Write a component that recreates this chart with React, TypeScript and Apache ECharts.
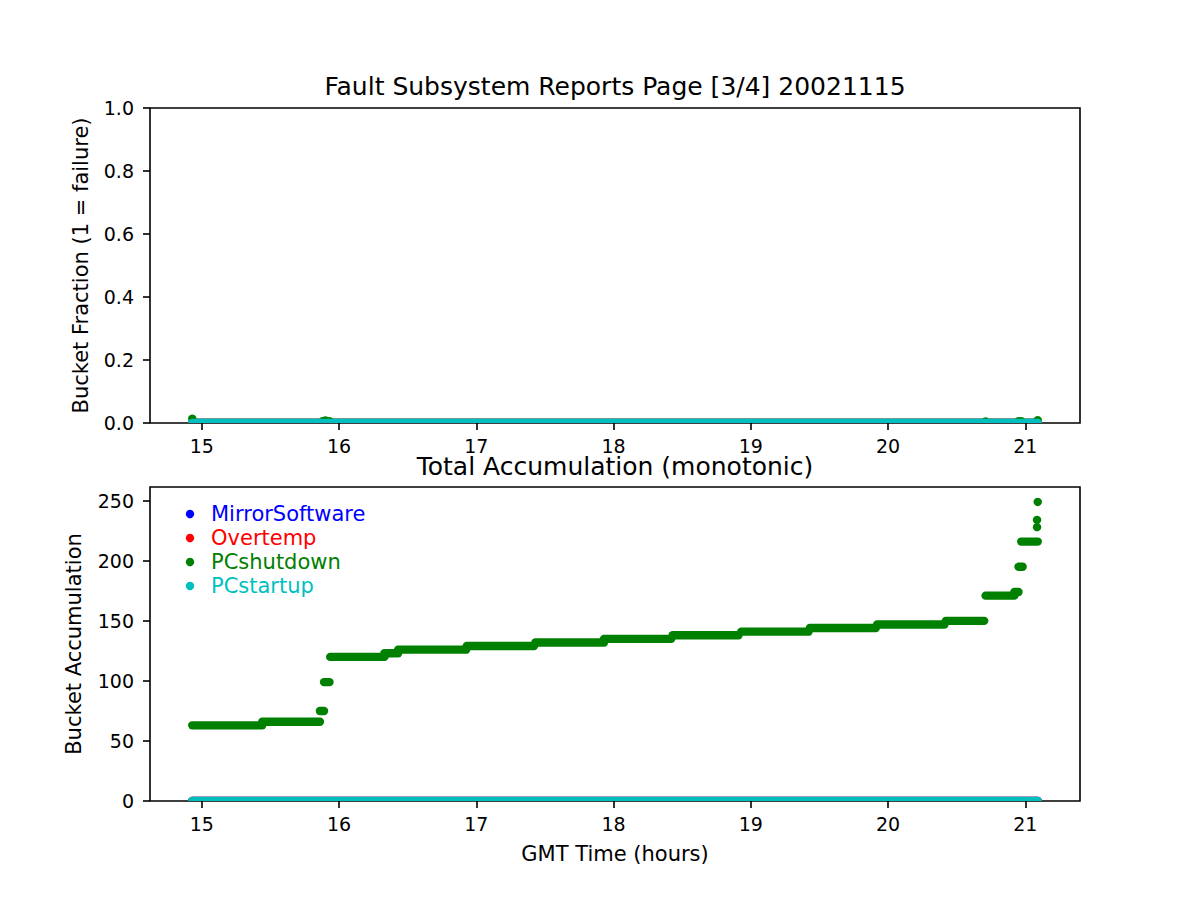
import React, { useEffect, useRef } from 'react';
import * as echarts from 'echarts';

const seriesNames = ['MirrorSoftware', 'Overtemp', 'PCshutdown', 'PCstartup'];
const seriesColors = ['#0000ff', '#ff0000', '#008000', '#00bfbf'];

const xTicks = [15, 16, 17, 18, 19, 20, 21];
const fractionTicks = [0, 0.2, 0.4, 0.6, 0.8, 1.0];
const accumTicks = [0, 50, 100, 150, 200, 250];

const topTitle = 'Fault Subsystem Reports Page [3/4] 20021115';
const bottomTitle = 'Total Accumulation (monotonic)';
const topYLabel = 'Bucket Fraction (1 = failure)';
const bottomYLabel = 'Bucket Accumulation';
const xLabel = 'GMT Time (hours)';

const tStart = 14.93;
const tEnd = 21.09;

// segments: [start hour, end hour, value]
const fracMirrorSoftware = [[14.93, 21.09, 0]];
const fracOvertemp = [[14.93, 21.09, 0]];
const fracPCshutdown = [
  [14.93, 21.09, 0],
  [14.93, 14.93, 0.014],
  [15.88, 15.88, 0.006],
  [15.9, 15.9, 0.008],
  [15.93, 15.93, 0.006],
  [20.71, 20.71, 0.005],
  [20.95, 20.95, 0.006],
  [20.97, 20.97, 0.006],
  [21.09, 21.09, 0.009],
];
const fracPCstartup = [[14.93, 21.09, 0]];

const accMirrorSoftware = [[14.93, 21.09, 0]];
const accOvertemp = [[14.93, 21.09, 0]];
const accPCshutdown = [
  [14.93, 15.44, 63],
  [15.44, 15.86, 66],
  [15.86, 15.89, 75],
  [15.89, 15.93, 99],
  [15.935, 16.33, 120],
  [16.33, 16.43, 123],
  [16.43, 16.925, 126],
  [16.93, 17.42, 129],
  [17.43, 17.93, 132],
  [17.93, 18.42, 135],
  [18.43, 18.91, 138],
  [18.93, 19.42, 141],
  [19.43, 19.91, 144],
  [19.92, 20.41, 147],
  [20.42, 20.7, 150],
  [20.71, 20.92, 171],
  [20.92, 20.95, 174],
  [20.95, 20.98, 195],
  [20.97, 21.09, 216],
  [21.085, 21.085, 228],
  [21.085, 21.085, 234],
  [21.09, 21.09, 249],
];
const accPCstartup = [[14.93, 21.09, 0]];

const FONT = 'DejaVu Sans';
const R = 4.2;

function segSeries(name: string, color: string, data: number[][], idx: number) {
  return {
    type: 'custom',
    name,
    xAxisIndex: idx,
    yAxisIndex: idx,
    clip: true,
    silent: true,
    data,
    encode: { x: [0, 1], y: 2 },
    itemStyle: { color },
    renderItem: (params: any, api: any) => {
      const a = api.coord([api.value(0), api.value(2)]);
      const b = api.coord([api.value(1), api.value(2)]);
      if (Math.abs(b[0] - a[0]) < 0.5) {
        return { type: 'circle', shape: { cx: a[0], cy: a[1], r: R }, style: { fill: color } };
      }
      return {
        type: 'line',
        shape: { x1: a[0], y1: a[1], x2: b[0], y2: b[1] },
        style: { stroke: color, lineWidth: 2 * R, lineCap: 'round' },
      };
    },
  };
}

export default function App() {
  const ref = useRef<HTMLDivElement>(null);
  useEffect(() => {
    if (!ref.current) return;
    const chart = echarts.init(ref.current, null, { renderer: 'svg' });
    const span = tEnd - tStart;
    const xMin = tStart - 0.05 * span;
    const xMax = tEnd + 0.05 * span;
    const accMax = Math.max(...accPCshutdown.map((d) => d[2])) * 1.05;

    const axisCommon = {
      axisLine: { show: false },
      axisTick: { show: true, length: 7, lineStyle: { color: '#000', width: 1.6 } },
      splitLine: { show: false },
    };
    const xAxisBase = (idx: number) => ({
      type: 'value',
      gridIndex: idx,
      min: xMin,
      max: xMax,
      ...axisCommon,
      axisTick: { ...axisCommon.axisTick, customValues: xTicks },
      axisLabel: { customValues: xTicks, color: '#000', fontSize: 19, fontFamily: FONT, margin: 13 },
    });

    const option: any = {
      animation: false,
      backgroundColor: '#fff',
      title: [
        {
          text: topTitle,
          left: 615,
          top: 74,
          padding: 0,
          textAlign: 'center',
          textStyle: { fontSize: 25, fontWeight: 'normal', color: '#000', fontFamily: FONT },
        },
        {
          text: bottomTitle,
          left: 615,
          top: 454,
          padding: 0,
          textAlign: 'center',
          textStyle: { fontSize: 25, fontWeight: 'normal', color: '#000', fontFamily: FONT },
        },
      ],
      grid: [
        { left: 150, top: 108, width: 930, height: 315, show: true, borderColor: '#000', borderWidth: 1.6, backgroundColor: 'transparent' },
        { left: 150, top: 487, width: 930, height: 314, show: true, borderColor: '#000', borderWidth: 1.6, backgroundColor: 'transparent' },
      ],
      xAxis: [
        xAxisBase(0),
        {
          ...xAxisBase(1),
          name: xLabel,
          nameLocation: 'middle',
          nameGap: 42,
          nameTextStyle: { fontSize: 21, fontFamily: FONT, color: '#000' },
        },
      ],
      yAxis: [
        {
          type: 'value',
          gridIndex: 0,
          min: 0,
          max: 1,
          ...axisCommon,
          axisTick: { ...axisCommon.axisTick, customValues: fractionTicks },
          axisLabel: {
            customValues: fractionTicks,
            color: '#000',
            fontSize: 19,
            fontFamily: FONT,
            margin: 16,
            formatter: (v: number) => v.toFixed(1),
          },
          name: topYLabel,
          nameLocation: 'middle',
          nameRotate: 90,
          nameGap: 59,
          nameTextStyle: { fontSize: 21, fontFamily: FONT, color: '#000' },
        },
        {
          type: 'value',
          gridIndex: 1,
          min: 0,
          max: accMax,
          ...axisCommon,
          axisTick: { ...axisCommon.axisTick, customValues: accumTicks },
          axisLabel: { customValues: accumTicks, color: '#000', fontSize: 19, fontFamily: FONT, margin: 16 },
          name: bottomYLabel,
          nameLocation: 'middle',
          nameRotate: 90,
          nameGap: 66,
          nameTextStyle: { fontSize: 21, fontFamily: FONT, color: '#000' },
        },
      ],
      graphic: seriesNames.flatMap((n, i) => [
        { type: 'circle', silent: true, shape: { cx: 190, cy: 514 + 24 * i, r: R }, style: { fill: seriesColors[i] } },
        {
          type: 'text',
          silent: true,
          x: 211,
          y: 514 + 24 * i,
          style: { text: n, fill: seriesColors[i], fontSize: 21, fontFamily: FONT, verticalAlign: 'middle' },
        },
      ]),
      series: [
        segSeries(seriesNames[0], seriesColors[0], fracMirrorSoftware, 0),
        segSeries(seriesNames[1], seriesColors[1], fracOvertemp, 0),
        segSeries(seriesNames[2], seriesColors[2], fracPCshutdown, 0),
        segSeries(seriesNames[3], seriesColors[3], fracPCstartup, 0),
        segSeries(seriesNames[0], seriesColors[0], accMirrorSoftware, 1),
        segSeries(seriesNames[1], seriesColors[1], accOvertemp, 1),
        segSeries(seriesNames[2], seriesColors[2], accPCshutdown, 1),
        segSeries(seriesNames[3], seriesColors[3], accPCstartup, 1),
      ],
    };
    chart.setOption(option);
    return () => chart.dispose();
  }, []);
  return <div ref={ref} style={{ position: 'absolute', left: 0, top: 0, width: 1200, height: 900 }} />;
}
